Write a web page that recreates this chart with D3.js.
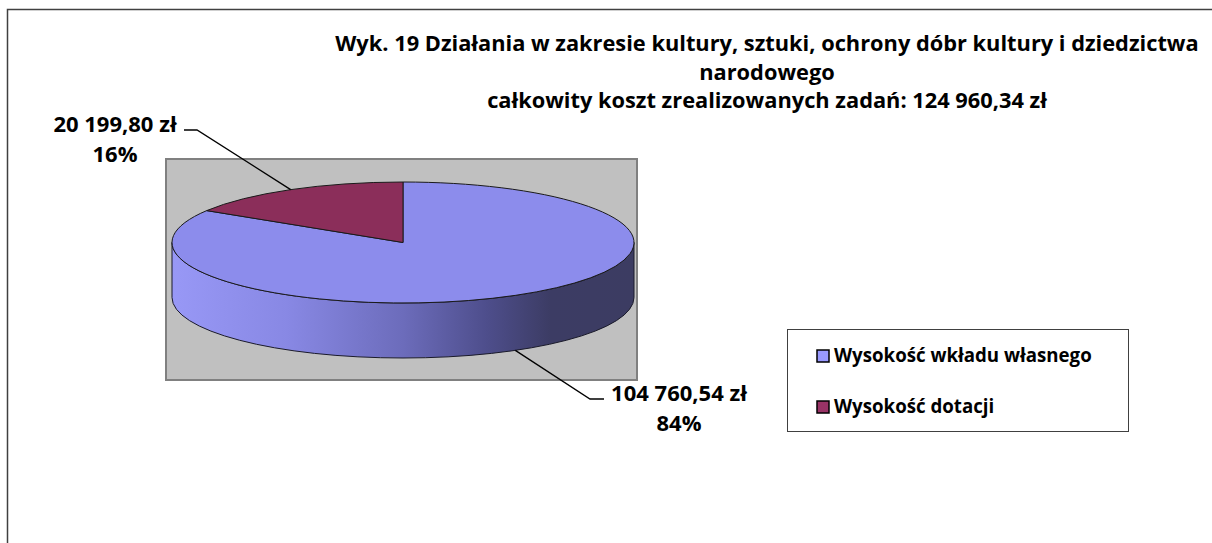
<!DOCTYPE html>
<html>
<head>
<meta charset="utf-8">
<script src="https://cdn.jsdelivr.net/npm/d3@7"></script>
<style>
  body { margin: 0; background: #fff; }
  text { font-family: "Open Sans", Lato, sans-serif; font-weight: 700; fill: #000; }
</style>
</head>
<body>
<div id="chart"></div>
<script>
// data
const categories = ['Wysokość wkładu własnego', 'Wysokość dotacji'];
const values = [104760.54, 20199.80];
const valueLabels = ['104 760,54 zł', '20 199,80 zł'];
const percentLabels = ['84%', '16%'];
const titleLines = [
    'Wyk. 19 Działania w zakresie kultury, sztuki, ochrony dóbr kultury i dziedzictwa',
    'narodowego',
    'całkowity koszt zrealizowanych zadań: 124 960,34 zł'
];

const width = 1212;
const height = 543;

// pie geometry
const cx = 403, cy = 242.5;
const rx = 231, ry = 60.5;
const depth = 55;

const topColors = ['#8c8cec', '#8b2e5a'];
const legendColors = ['#9999ff', '#993366'];

const svg = d3.select('#chart')
    .append('svg')
    .attr('width', width)
    .attr('height', height);

// outer border (runs off the right and bottom)
svg.append('rect')
    .attr('x', 7.5).attr('y', 9.5)
    .attr('width', 1220).attr('height', 560)
    .attr('fill', '#fff')
    .attr('stroke', '#404040')
    .attr('stroke-width', 1.5);

// plot area
svg.append('rect')
    .attr('x', 166).attr('y', 159)
    .attr('width', 471).attr('height', 221)
    .attr('fill', '#c0c0c0')
    .attr('stroke', '#808080')
    .attr('stroke-width', 2);

// gradient for the side
const defs = svg.append('defs');
const grad = defs.append('linearGradient')
    .attr('id', 'side')
    .attr('gradientUnits', 'userSpaceOnUse')
    .attr('x1', cx - rx).attr('x2', cx + rx)
    .attr('y1', 0).attr('y2', 0);
[[0, '#9898f6'], [0.25, '#8888e4'], [0.5, '#6c6cbb'], [0.68, '#4e4e8c'], [0.82, '#3c3c64'], [1, '#3c3c62']]
    .forEach(s => grad.append('stop').attr('offset', s[0]).attr('stop-color', s[1]));

const pie = d3.pie().sort(null).value(d => d);
const slices = pie(values);

// point on the top ellipse for a pie angle (clockwise from 12 o'clock)
const pt = (a, dy = 0) => [cx + rx * Math.sin(a), cy - ry * Math.cos(a) + dy];

// side of the cylinder (front half, all blue)
const p1 = pt(Math.PI / 2), p2 = pt(3 * Math.PI / 2);
svg.append('path')
    .attr('d', `M${p1[0]},${p1[1]} A${rx},${ry} 0 0 1 ${p2[0]},${p2[1]} L${p2[0]},${p2[1] + depth} A${rx},${ry} 0 0 0 ${p1[0]},${p1[1] + depth} Z`)
    .attr('fill', 'url(#side)')
    .attr('stroke', '#1a1a2a')
    .attr('stroke-width', 1);

// top face, drawn as a circle arc squashed to an ellipse
const arc = d3.arc().innerRadius(0).outerRadius(rx);
svg.append('g')
    .attr('transform', `translate(${cx},${cy}) scale(1,${ry / rx})`)
    .selectAll('path')
    .data(slices)
    .enter()
    .append('path')
    .attr('d', arc)
    .attr('fill', (d, i) => topColors[i])
    .attr('stroke', '#1a1a1a')
    .attr('stroke-width', 1)
    .attr('vector-effect', 'non-scaling-stroke');

// leader lines and labels
const mid = d => (d.startAngle + d.endAngle) / 2;
const labelSpec = [
    { dy: depth, bend: [590, 399], end: [604, 399], tx: 679, ty: 401 },
    { dy: 0, bend: [197, 130], end: [184, 130], tx: 115, ty: 132 }
];

slices.forEach((d, i) => {
    const s = labelSpec[i];
    const start = pt(mid(d), s.dy);
    svg.append('polyline')
        .attr('points', [start, s.bend, s.end].map(p => p.join(',')).join(' '))
        .attr('fill', 'none')
        .attr('stroke', '#000')
        .attr('stroke-width', 1.3);
    svg.append('text')
        .attr('x', s.tx).attr('y', s.ty)
        .attr('text-anchor', 'middle')
        .attr('font-size', 22)
        .text(valueLabels[i]);
    svg.append('text')
        .attr('x', s.tx).attr('y', s.ty + 30)
        .attr('text-anchor', 'middle')
        .attr('font-size', 22)
        .text(percentLabels[i]);
});

// title
svg.selectAll('.title')
    .data(titleLines)
    .enter()
    .append('text')
    .attr('class', 'title')
    .attr('x', 767)
    .attr('y', (d, i) => 51 + i * 28.5)
    .attr('text-anchor', 'middle')
    .attr('font-size', 21.8)
    .text(d => d);

// legend
const legend = svg.append('g');
legend.append('rect')
    .attr('x', 787.5).attr('y', 329.5)
    .attr('width', 341).attr('height', 102)
    .attr('fill', '#fff')
    .attr('stroke', '#404040')
    .attr('stroke-width', 1);

categories.forEach((c, i) => {
    const y = 356 + i * 51;
    legend.append('rect')
        .attr('x', 817).attr('y', y - 6)
        .attr('width', 12).attr('height', 12)
        .attr('fill', legendColors[i])
        .attr('stroke', '#000')
        .attr('stroke-width', 1.5);
    legend.append('text')
        .attr('x', 834).attr('y', y + 6)
        .attr('font-size', 18.7)
        .text(c);
});
</script>
</body>
</html>
